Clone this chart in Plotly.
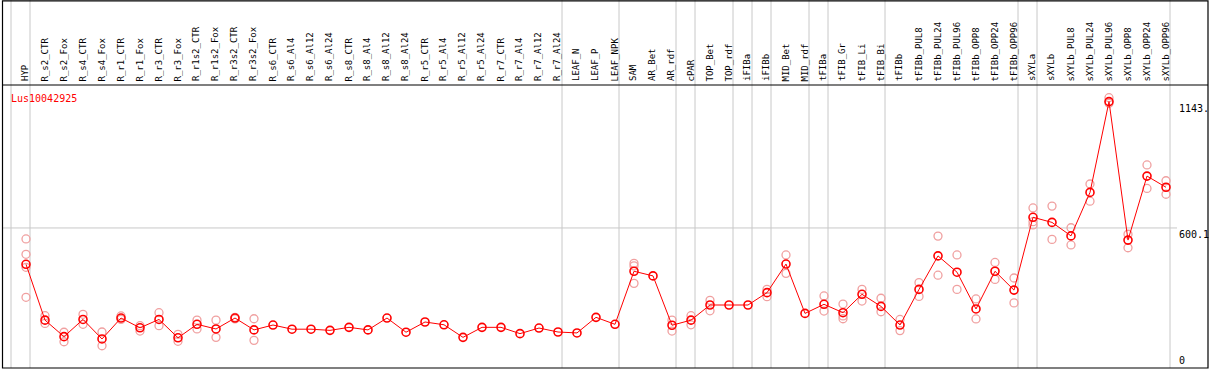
import plotly.graph_objects as go

categories = ["HYP", "R_s2_CTR", "R_s2_Fox", "R_s4_CTR", "R_s4_Fox", "R_r1_CTR", "R_r1_Fox",
              "R_r3_CTR", "R_r3_Fox", "R_r1s2_CTR", "R_r1s2_Fox", "R_r3s2_CTR", "R_r3s2_Fox",
              "R_s6_CTR", "R_s6_Al4", "R_s6_Al12", "R_s6_Al24", "R_s8_CTR", "R_s8_Al4", "R_s8_Al12",
              "R_s8_Al24", "R_r5_CTR", "R_r5_Al4", "R_r5_Al12", "R_r5_Al24", "R_r7_CTR", "R_r7_Al4",
              "R_r7_Al12", "R_r7_Al24", "LEAF_N", "LEAF_P", "LEAF_NPK", "SAM", "AR_Bet", "AR_rdf",
              "cPAR", "TOP_Bet", "TOP_rdf", "iFIBa", "iFIBb", "MID_Bet", "MID_rdf", "tFIBa", "tFIB_Gr",
              "tFIB_Li", "tFIB_Bi", "tFIBb", "tFIBb_PUL8", "tFIBb_PUL24", "tFIBb_PUL96", "tFIBb_OPP8",
              "tFIBb_OPP24", "tFIBb_OPP96", "sXYLa", "sXYLb", "sXYLb_PUL8", "sXYLb_PUL24",
              "sXYLb_PUL96", "sXYLb_OPP8", "sXYLb_OPP24", "sXYLb_OPP96"]

mean_values = [444, 204, 133, 207, 123, 213, 171, 207, 128, 186, 166, 213, 162,
               183, 165, 165, 160, 173, 162, 213, 152, 196, 184, 130, 173, 173, 146, 170, 153,
               149, 216, 186, 414, 394, 182, 204, 269, 269, 269, 322, 445, 233,
               272, 236, 315, 263, 183, 336, 480, 410, 252, 414, 333,
               646, 624, 566, 753, 1143, 548, 823, 775]

rep_a = [553, 223, 152, 229, 153, 222, 180, 236, 143, 204, 204, 216, 210,
         None, None, None, None, None, None, None, None, None, None, None, None, None, None, None, None,
         None, None, None, 448, None, 204, 223, 289, None, None, 336, 484, None,
         308, 273, 336, 298, 207, 365, 565, 484, 295, 452, 385,
         686, 694, 601, 789, 1160, 573, 871, 803]
rep_b = [487, 190, 111, 186, 94, 207, 157, 180, 113, 166, 130, 209, 117,
         None, None, None, None, None, None, None, None, None, None, None, None, None, None, None, None,
         None, None, None, 437, None, 157, 184, 244, None, None, 305, 405, None,
         243, 222, 286, 240, 159, 306, 397, 336, 209, 379, 278,
         627, 551, 527, 715, 1136, 515, 770, 745]
rep_c = [431, None, None, None, None, None, None, None, None, None, None, None, None,
         None, None, None, None, None, None, None, None, None, None, None, None, None, None, None, None,
         None, None, None, 362, None, None, None, None, None, None, None, None, None,
         None, 210, None, None, None, None, None, None, None, None, None,
         613, None, None, None, None, None, None, None]
rep_d = [302] + [None] * 60

group_ends = ["", "HYP", "R_r7_Al24", "LEAF_NPK", "AR_rdf", "cPAR", "TOP_rdf", "iFIBa", "iFIBb",
              "MID_rdf", "tFIBa", "tFIB_Bi", "tFIBb_OPP96", "sXYLa", "sXYLb_OPP96"]

axis_ticks = [0, 600.1, 1143]
axis_tick_labels = ["0", "600.1", "1143."]
gene_name = "Lus10042925"

W, H = 1209, 370
X0, DX = 26, 19          # pixel of first category, spacing
Y_ZERO, PX_PER = 367.6, 0.2327


def px_x(p):
    return (p - X0) / DX


def px_y(p):
    return (Y_ZERO - p) / PX_PER


def paper_x(p):
    return p / W


def paper_y(p):
    return (H - p) / H


xs = list(range(len(categories)))
fig = go.Figure()

rep_x, rep_y = [], []
for arr in (rep_a, rep_b, rep_c, rep_d):
    for i, v in enumerate(arr):
        if v is not None:
            rep_x.append(i)
            rep_y.append(v)

fig.add_trace(go.Scatter(x=rep_x, y=rep_y, mode="markers",
                         marker=dict(symbol="circle-open", size=8, color="#f0a0a0",
                                     line=dict(width=1.3, color="#f0a0a0")),
                         hoverinfo="skip", showlegend=False))
fig.add_trace(go.Scatter(x=xs, y=mean_values, mode="lines+markers",
                         line=dict(color="#ff0000", width=1),
                         marker=dict(symbol="circle-open", size=8, color="#ff0000",
                                     line=dict(width=1.6, color="#ff0000")),
                         showlegend=False))

shapes = []
gray = "#c8c8c8"
for name in group_ends:
    idx = categories.index(name) if name else -1
    xx = idx + 4 / DX
    shapes.append(dict(type="line", xref="x", yref="paper", x0=xx, x1=xx,
                       y0=paper_y(368), y1=1, line=dict(color=gray, width=1), layer="below"))
shapes.append(dict(type="line", xref="paper", yref="y", x0=paper_x(2), x1=paper_x(1177),
                   y0=600.1, y1=600.1, line=dict(color=gray, width=1), layer="below"))
# border and header separator
shapes.append(dict(type="rect", xref="paper", yref="paper", x0=paper_x(2.5), x1=paper_x(1208),
                   y0=paper_y(368), y1=paper_y(0.8), line=dict(color="black", width=1.2)))
shapes.append(dict(type="line", xref="paper", yref="paper", x0=paper_x(2.5), x1=paper_x(1208),
                   y0=paper_y(85), y1=paper_y(85), line=dict(color="black", width=1.2)))

annotations = []
for i, c in enumerate(categories):
    annotations.append(dict(x=i, xref="x", xshift=-1, y=paper_y(83.5), yref="paper",
                            text=c, textangle=-90, showarrow=False,
                            xanchor="center", yanchor="bottom",
                            font=dict(family="DejaVu Sans Mono", size=9, color="black")))
for v, t in zip(axis_ticks, axis_tick_labels):
    if v == 0:
        annotations.append(dict(x=paper_x(1177), xref="paper", y=paper_y(368), yref="paper",
                                text=t, showarrow=False, xanchor="left", yanchor="bottom",
                                font=dict(family="DejaVu Sans Mono", size=10, color="black")))
    else:
        annotations.append(dict(x=paper_x(1177), xref="paper", y=v, yref="y", yshift=1,
                                text=t, showarrow=False, xanchor="left", yanchor="top",
                                font=dict(family="DejaVu Sans Mono", size=10, color="black")))
annotations.append(dict(x=paper_x(9), xref="paper", y=paper_y(91), yref="paper",
                        text=gene_name, showarrow=False, xanchor="left", yanchor="top",
                        font=dict(family="DejaVu Sans Mono", size=10, color="#ff0000")))

fig.update_layout(
    width=W, height=H,
    margin=dict(l=0, r=0, t=0, b=0),
    paper_bgcolor="white", plot_bgcolor="white",
    xaxis=dict(range=[px_x(0), px_x(W)], visible=False, fixedrange=True),
    yaxis=dict(range=[px_y(H), px_y(0)], visible=False, fixedrange=True),
    shapes=shapes, annotations=annotations,
)

fig.write_html("out.html", config={"displayModeBar": False},
               post_script="document.body.style.margin='0';document.body.style.padding='0';"
                           "document.body.style.overflow='hidden';")
